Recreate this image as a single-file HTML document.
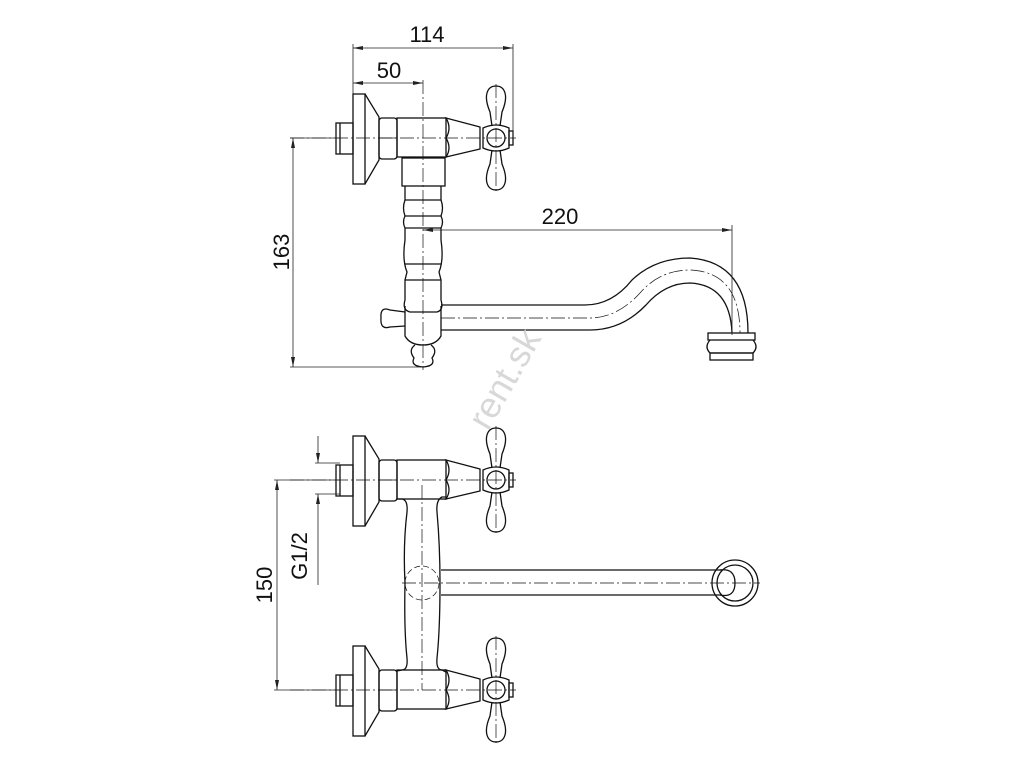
<!DOCTYPE html>
<html><head><style>
html,body{margin:0;padding:0;background:#fff;width:1024px;height:768px;overflow:hidden}
svg{display:block}
text{font-family:"Liberation Sans",sans-serif;fill:#111}
</style></head><body>
<svg width="1024" height="768" viewBox="0 0 1024 768" xmlns="http://www.w3.org/2000/svg">
<defs>
<marker id="ar" viewBox="0 0 10 4" refX="10" refY="2" markerWidth="10" markerHeight="4" orient="auto-start-reverse" markerUnits="userSpaceOnUse"><path d="M0,0 L10,2 L0,4z" fill="#222"/></marker>
<g id="valve" fill="none" stroke="#111" stroke-width="1.3">
  <rect x="336" y="-15" width="17" height="31"/>
  <line x1="340" y1="-15" x2="340" y2="16"/>
  <rect x="353" y="-44" width="12" height="90"/>
  <path d="M365,-44 L379,-21 L379,22 L365,46"/>
  <rect x="379" y="-20" width="18" height="41" rx="3"/>
  <line x1="379" y1="0" x2="397" y2="0" stroke-width="0.8"/>
  <rect x="397" y="-20" width="49" height="39"/>
  <path d="M446,-20 Q452,-10 446,0 Q452,10 446,19 L480,11 L480,-11 Z"/>
  <path d="M492,-12 L490,-26 Q485,-38 487,-45 Q489,-52 496,-52 Q503,-52 505,-45 Q507,-38 502,-26 L500,-12"/>
  <path d="M492,12 L490,26 Q485,38 487,45 Q489,52 496,52 Q503,52 505,45 Q507,38 502,26 L500,12"/>
  <path d="M483,-10 Q496,-16 509,-10 L509,10 Q496,16 483,10 Z"/>
  <rect x="509" y="-7" width="4" height="14"/>
  <circle cx="496" cy="0" r="9"/>
  <line x1="290" y1="0" x2="516" y2="0" stroke-width="0.7" stroke-dasharray="14,3,2,3"/>
  <line x1="496" y1="-54" x2="496" y2="54" stroke-width="0.7" stroke-dasharray="14,3,2,3"/>
</g>
</defs>

<!-- TOP VIEW -->
<use href="#valve" transform="translate(0,138)"/>
<g fill="none" stroke="#111" stroke-width="1.3">
  <rect x="402" y="158" width="43" height="28"/>
  <path d="M405,186 L405,200 Q402,208 405,216 Q402,222 405,228 L405,240 Q402,260 407,272 L405,280 L405,300 Q402,310 410,312 L412,312 L437,312 Q444,310 441,300 L441,280 L439,272 Q444,260 441,240 L441,228 Q444,222 441,216 Q444,208 441,200 L441,186"/>
  <line x1="405" y1="200" x2="441" y2="200"/><line x1="405" y1="216" x2="441" y2="216"/>
  <line x1="405" y1="228" x2="441" y2="228"/><line x1="405" y1="264" x2="441" y2="264"/>
  <line x1="405" y1="280" x2="441" y2="280"/>
  <path d="M405,306 L405,336 Q410,345 423,345 Q436,345 441,336 L441,306"/>
  <path d="M405,312 L390,310 Q380,306 381,318 Q380,330 390,327 L405,326"/>
  <path d="M415,345 Q408,350 414,358 Q410,366 423,367 Q436,366 432,358 Q438,350 431,345"/>
  <path d="M441,305 L585,305 Q612,305 632,280 Q655,258 690,258 Q748,262 748,333"/>
  <path d="M441,330 L590,330 Q622,330 646,305 Q665,283 690,283 Q730,285 732,333"/>
  <rect x="708" y="333" width="47" height="7"/>
  <path d="M710,340 Q704,347 710,353 L753,353 Q759,347 753,340"/>
  <rect x="710" y="353" width="43" height="7"/>
  <path d="M441,318 L590,318 Q617,318 640,293 Q660,270 690,270 Q740,272 740,333" stroke-width="0.7" stroke-dasharray="14,3,2,3"/>
  <line x1="423" y1="80" x2="423" y2="370" stroke-width="0.7" stroke-dasharray="14,3,2,3"/>
</g>
<!-- top dims -->
<g stroke="#222" stroke-width="0.8" fill="none">
  <line x1="353" y1="44" x2="353" y2="94"/>
  <line x1="513" y1="44" x2="513" y2="138"/>
  <line x1="353" y1="48" x2="513" y2="48" marker-start="url(#ar)" marker-end="url(#ar)"/>
  <line x1="353" y1="83" x2="423" y2="83" marker-start="url(#ar)" marker-end="url(#ar)"/>
  <line x1="290" y1="138" x2="340" y2="138"/>
  <line x1="290" y1="367" x2="425" y2="367"/>
  <line x1="293" y1="138" x2="293" y2="367" marker-start="url(#ar)" marker-end="url(#ar)"/>
  <line x1="732" y1="225" x2="732" y2="335"/>
  <line x1="423" y1="230" x2="732" y2="230" marker-start="url(#ar)" marker-end="url(#ar)"/>
</g>
<text x="427" y="42" font-size="22" text-anchor="middle">114</text>
<text x="389" y="78" font-size="22" text-anchor="middle">50</text>
<text x="560" y="224" font-size="22" text-anchor="middle">220</text>
<text transform="translate(289,252) rotate(-90)" font-size="22" text-anchor="middle">163</text>

<!-- BOTTOM VIEW -->
<use href="#valve" transform="translate(0,480)"/>
<use href="#valve" transform="translate(0,690)"/>
<g fill="none" stroke="#111" stroke-width="1.3">
  <path d="M397,499 L402,499 Q408,500 407,512 Q403,545 405,583 Q404,630 407,658 Q408,670 402,670 L397,671"/>
  <path d="M446,497 L442,497 Q436,500 437,512 Q440,545 440,583 Q440,630 437,658 Q436,670 442,670 L446,672"/>
  <line x1="441" y1="570" x2="722" y2="570"/>
  <line x1="441" y1="595" x2="722" y2="595"/>
  <path d="M720,570 Q735,568 735,583 Q735,598 720,595" />
  <circle cx="735" cy="583" r="18"/>
  <circle cx="735" cy="583" r="23"/>
  <circle cx="422" cy="583" r="17" stroke-width="0.7" stroke-dasharray="6,3"/>
  <line x1="402" y1="583" x2="760" y2="583" stroke-width="0.7" stroke-dasharray="14,3,2,3"/>
  <line x1="422" y1="485" x2="422" y2="690" stroke-width="0.7" stroke-dasharray="14,3,2,3"/>
</g>
<g stroke="#222" stroke-width="0.8" fill="none">
  <line x1="315" y1="463" x2="340" y2="463"/>
  <line x1="315" y1="494" x2="340" y2="494"/>
  <line x1="318" y1="436" x2="318" y2="463" marker-end="url(#ar)"/>
  <line x1="318" y1="585" x2="318" y2="494" marker-end="url(#ar)"/>
  <line x1="274" y1="480" x2="340" y2="480"/>
  <line x1="274" y1="690" x2="340" y2="690"/>
  <line x1="277" y1="480" x2="277" y2="690" marker-start="url(#ar)" marker-end="url(#ar)"/>
</g>
<text transform="translate(307,556) rotate(-90)" font-size="22" text-anchor="middle">G1/2</text>
<text transform="translate(272,585) rotate(-90)" font-size="22" text-anchor="middle">150</text>

<text transform="translate(515,385) rotate(-60)" font-size="36" text-anchor="middle" style="fill:#d8d8d8">rent.sk</text>
</svg>
</body></html>
